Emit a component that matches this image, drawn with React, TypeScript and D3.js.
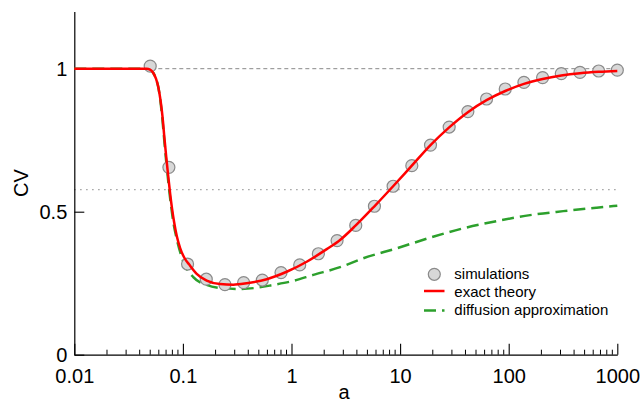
import React, { useEffect, useRef } from "react";
import * as d3 from "d3";

// simulation points (a, CV)
const simA = [0.05, 0.0743, 0.1104, 0.1641, 0.2439, 0.3625, 0.5387, 0.8006, 1.19, 1.768, 2.628, 3.905, 5.803, 8.624, 12.82, 19.05, 28.31, 42.07, 62.52, 92.91, 138.1, 205.2, 305.0, 453.2, 673.5, 1000];
const simCV = [1.009, 0.655, 0.317, 0.264, 0.245, 0.252, 0.261, 0.287, 0.314, 0.353, 0.399, 0.452, 0.519, 0.589, 0.661, 0.733, 0.796, 0.85, 0.894, 0.929, 0.952, 0.969, 0.983, 0.987, 0.992, 0.995];

// exact theory curve
const exactA = [0.01, 0.03, 0.0464, 0.0498, 0.0534, 0.0565, 0.0594, 0.0622, 0.065, 0.0675, 0.0703, 0.073, 0.0762, 0.0795, 0.0829, 0.0878, 0.0943, 0.1034, 0.1145, 0.134, 0.1656, 0.2196, 0.2911, 0.3868, 0.591, 0.903, 1.38, 2.11, 2.8, 3.905, 5.803, 8.624, 12.82, 19.05, 28.31, 42.07, 62.52, 92.91, 138.1, 205.2, 305.0, 453.2, 673.5, 1000];
const exactCV = [1, 1, 1, 0.997, 0.985, 0.965, 0.935, 0.89, 0.83, 0.76, 0.69, 0.63, 0.565, 0.51, 0.465, 0.415, 0.373, 0.338, 0.315, 0.283, 0.259, 0.247, 0.245, 0.25, 0.264, 0.29, 0.325, 0.369, 0.401, 0.452, 0.519, 0.589, 0.661, 0.733, 0.795, 0.848, 0.89, 0.922, 0.947, 0.964, 0.976, 0.984, 0.989, 0.992];

// diffusion approximation curve
const diffA = [0.01, 0.03, 0.0464, 0.0498, 0.0534, 0.0565, 0.0594, 0.0619, 0.0645, 0.067, 0.0696, 0.0722, 0.0753, 0.0785, 0.0819, 0.0877, 0.1009, 0.1247, 0.1656, 0.2355, 0.3356, 0.478, 0.68, 1.039, 1.587, 2.8, 4.58, 9.3, 18.85, 38.2, 77.5, 157, 318, 646, 1000];
const diffCV = [1, 1, 1, 0.997, 0.985, 0.965, 0.935, 0.89, 0.83, 0.76, 0.69, 0.63, 0.565, 0.51, 0.46, 0.405, 0.326, 0.271, 0.244, 0.232, 0.23, 0.234, 0.244, 0.258, 0.279, 0.306, 0.337, 0.372, 0.409, 0.442, 0.467, 0.488, 0.502, 0.514, 0.521];

const xMajor = [0.01, 0.1, 1, 10, 100, 1000];
const yTicks = [0, 0.5, 1];
const legendItems = ["simulations", "exact theory", "diffusion approximation"];

const FONT = "'Liberation Sans', Arial, Helvetica, sans-serif";

const App = () => {
  const ref = useRef<SVGSVGElement>(null);

  useEffect(() => {
    const svg = d3.select(ref.current);
    svg.selectAll("*").remove();

    const x = d3.scaleLog().domain([0.01, 1000]).range([74.3, 617.3]);
    const y = d3.scaleLinear().domain([0, 1.2]).range([354.7, 11.5]);
    const fmt = d3.format("~g");

    // reference lines
    svg
      .append("line")
      .attr("x1", x(0.01))
      .attr("x2", x(1000))
      .attr("y1", y(1))
      .attr("y2", y(1))
      .attr("stroke", "#888")
      .attr("stroke-width", 1)
      .attr("stroke-dasharray", "4,3");
    svg
      .append("line")
      .attr("x1", x(0.01))
      .attr("x2", x(1000))
      .attr("y1", y(0.5774))
      .attr("y2", y(0.5774))
      .attr("stroke", "#888")
      .attr("stroke-width", 1.2)
      .attr("stroke-dasharray", "1.2,4.8");

    // axes
    const minor: number[] = [];
    for (let e = -2; e < 3; e++) {
      for (let m = 2; m <= 9; m++) minor.push(m * Math.pow(10, e));
    }
    const gx = svg
      .append("g")
      .attr("transform", `translate(0,${y(0)})`)
      .call(
        d3
          .axisBottom(x)
          .tickValues(xMajor)
          .tickSize(-11)
          .tickSizeOuter(0)
          .tickPadding(14)
          .tickFormat((d) => fmt(d as number))
      );
    gx.selectAll("text").attr("font-size", 20).attr("font-family", FONT).attr("fill", "#000");
    gx.selectAll("line").attr("stroke", "#000").attr("stroke-width", 1.1);
    gx.select(".domain").attr("stroke", "#000").attr("stroke-width", 1.2);
    gx.selectAll(".minor")
      .data(minor)
      .enter()
      .append("line")
      .attr("x1", (d) => x(d))
      .attr("x2", (d) => x(d))
      .attr("y1", 0)
      .attr("y2", -5)
      .attr("stroke", "#000")
      .attr("stroke-width", 1);

    const gy = svg
      .append("g")
      .attr("transform", `translate(${x(0.01)},0)`)
      .call(
        d3
          .axisLeft(y)
          .tickValues(yTicks)
          .tickSize(-10)
          .tickSizeOuter(0)
          .tickPadding(7)
          .tickFormat((d) => fmt(d as number))
      );
    gy.selectAll("text").attr("font-size", 20).attr("font-family", FONT).attr("fill", "#000");
    gy.selectAll("line").attr("stroke", "#000").attr("stroke-width", 1.1);
    gy.select(".domain").attr("stroke", "#000").attr("stroke-width", 1.2);

    // axis titles
    svg
      .append("text")
      .attr("x", 344)
      .attr("y", 399)
      .attr("text-anchor", "middle")
      .attr("font-size", 20)
      .attr("font-family", FONT)
      .text("a");
    svg
      .append("text")
      .attr("transform", "translate(27.5,183) rotate(-90)")
      .attr("text-anchor", "middle")
      .attr("font-size", 20)
      .attr("font-family", FONT)
      .text("CV");

    // curves
    const mk = (xs: number[], ys: number[]) =>
      d3
        .line<number>()
        .x((_, i) => x(xs[i]))
        .y((d) => y(d))
        .curve(d3.curveMonotoneX)(ys);

    svg
      .append("path")
      .attr("d", mk(diffA, diffCV))
      .attr("fill", "none")
      .attr("stroke", "#2ca02c")
      .attr("stroke-width", 2.5)
      .attr("stroke-dasharray", "12,6");

    svg
      .selectAll(".sim")
      .data(simCV)
      .enter()
      .append("circle")
      .attr("cx", (_, i) => x(simA[i]))
      .attr("cy", (d) => y(d))
      .attr("r", 6)
      .attr("fill", "#d8d8d8")
      .attr("stroke", "#8a8a8a")
      .attr("stroke-width", 1.2);

    svg
      .append("path")
      .attr("d", mk(exactA, exactCV))
      .attr("fill", "none")
      .attr("stroke", "#ff0000")
      .attr("stroke-width", 2.5);

    // legend
    const lg = svg.append("g");
    lg.append("circle")
      .attr("cx", 434.3)
      .attr("cy", 274.3)
      .attr("r", 6)
      .attr("fill", "#d8d8d8")
      .attr("stroke", "#8a8a8a")
      .attr("stroke-width", 1.2);
    lg.append("line")
      .attr("x1", 424)
      .attr("x2", 444.5)
      .attr("y1", 291)
      .attr("y2", 291)
      .attr("stroke", "#ff0000")
      .attr("stroke-width", 2.5);
    lg.append("line")
      .attr("x1", 424)
      .attr("x2", 444.5)
      .attr("y1", 310.5)
      .attr("y2", 310.5)
      .attr("stroke", "#2ca02c")
      .attr("stroke-width", 2.5)
      .attr("stroke-dasharray", "12,6");
    lg.selectAll(".lt")
      .data(legendItems)
      .enter()
      .append("text")
      .attr("x", 454.3)
      .attr("y", (_, i) => 279.3 + i * 17.8)
      .attr("font-size", 15)
      .attr("font-family", FONT)
      .text((d) => d);
  }, []);

  return (
    <svg
      ref={ref}
      width={641}
      height={403}
      style={{ position: "absolute", left: 0, top: 0, background: "#fff" }}
    />
  );
};

export default App;
